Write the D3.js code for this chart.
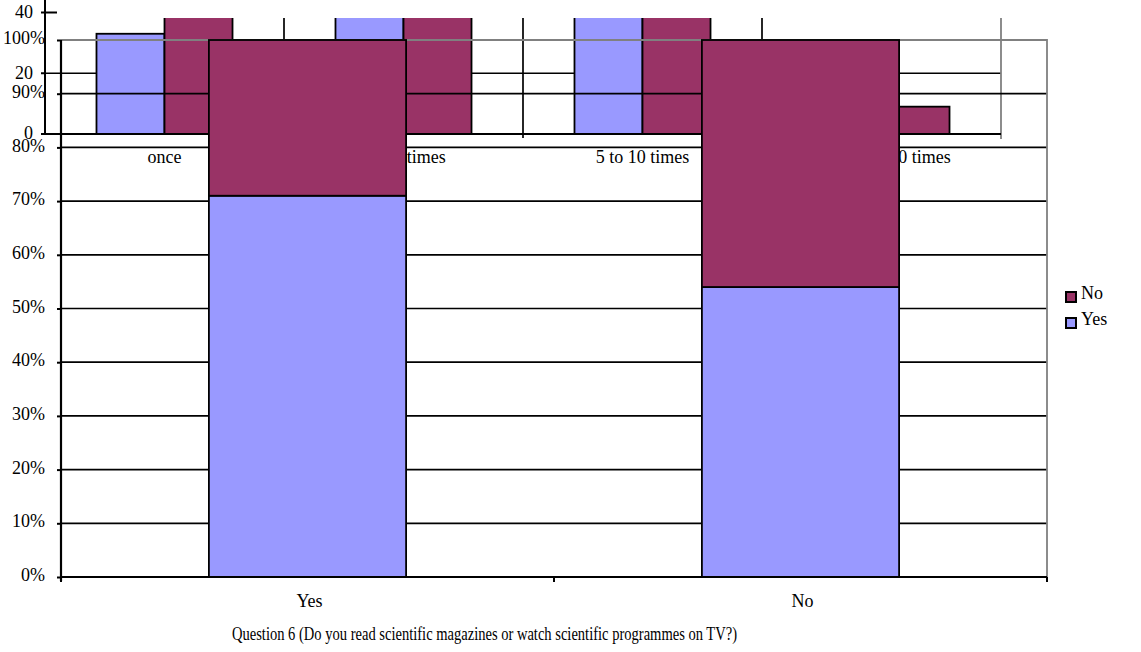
<!DOCTYPE html>
<html><head><meta charset="utf-8">
<script src="https://cdn.jsdelivr.net/npm/d3@7"></script>
<style>body{margin:0;background:#fff}svg{display:block}text{font-family:"Liberation Serif","Times New Roman",serif;fill:#000}</style>
</head><body>
<svg id="c" width="1141" height="652"></svg>
<script>
// Background (overlapped) chart data
const bgCategories = ["once", "2 to 4 times", "5 to 10 times", "more than 10 times"];
const bgSeries = ["Yes", "No"];
const bgYes = [33, 42, 48, 20];
const bgNo = [45, 50, 46, 9];
const bgTicks = [0, 20, 40];

// Foreground 100% stacked chart data
const categories = ["Yes", "No"];
const yesShare = [0.71, 0.54];
const noShare = [0.29, 0.46];
const yTicks = [0, 0.1, 0.2, 0.3, 0.4, 0.5, 0.6, 0.7, 0.8, 0.9, 1.0];
const legendItems = ["No", "Yes"];
const title = "Question 6 (Do you read scientific magazines or watch scientific programmes on TV?)";

const colors = {Yes: "#9999FF", No: "#993366"};
const svg = d3.select("#c");
const GW = 1.7;

// ---------- background chart ----------
const bx0 = d3.scaleBand().domain(bgCategories).range([45, 1001]).padding(0);
const bx1 = d3.scaleBand().domain(bgSeries).range([0, bx0.bandwidth()]).paddingInner(0).paddingOuter(0.757);
const by = d3.scaleLinear().domain([0, 40]).range([134, 12.5]);
const bg = svg.append("g");
svg.append("defs").append("clipPath").attr("id", "bgclip")
  .append("rect").attr("x", 0).attr("y", 18).attr("width", 1141).attr("height", 200);

bg.append("line").attr("x1", 45).attr("x2", 1001).attr("y1", by(20)).attr("y2", by(20))
  .attr("stroke", "#000").attr("stroke-width", GW);
bgCategories.slice(1).forEach(c => {
  bg.append("line").attr("x1", bx0(c)).attr("x2", bx0(c)).attr("y1", 18).attr("y2", by(0) + 4)
    .attr("stroke", "#000").attr("stroke-width", GW);
});
bg.append("line").attr("x1", 1001).attr("x2", 1001).attr("y1", 18).attr("y2", by(0) + 5)
  .attr("stroke", "#808080").attr("stroke-width", 1.8);

const bgData = bgCategories.map((c, i) => ({c, Yes: bgYes[i], No: bgNo[i]}));
const bgBars = bg.append("g").attr("clip-path", "url(#bgclip)");
bgData.forEach(d => {
  bgSeries.forEach(s => {
    bgBars.append("rect")
      .attr("x", bx0(d.c) + bx1(s)).attr("width", bx1.bandwidth())
      .attr("y", by(d[s])).attr("height", by(0) - by(d[s]))
      .attr("fill", colors[s]).attr("stroke", "#000").attr("stroke-width", 1.8);
  });
});
bg.append("line").attr("x1", 45).attr("x2", 1001).attr("y1", by(0)).attr("y2", by(0))
  .attr("stroke", "#000").attr("stroke-width", 2);
bg.append("line").attr("x1", 45).attr("x2", 45).attr("y1", 0).attr("y2", by(0))
  .attr("stroke", "#000").attr("stroke-width", 2);
bgTicks.forEach(t => {
  bg.append("line").attr("x1", 41).attr("x2", t === 40 ? 57 : 45).attr("y1", by(t)).attr("y2", by(t))
    .attr("stroke", "#000").attr("stroke-width", 2);
  bg.append("text").attr("x", 33).attr("y", by(t)).attr("dy", "0.3em")
    .attr("text-anchor", "end").attr("font-size", 18).text(t);
});
bgCategories.forEach(c => {
  bg.append("text").attr("x", bx0(c) + bx0.bandwidth() / 2).attr("y", 163)
    .attr("text-anchor", "middle").attr("font-size", 18).text(c);
});

// ---------- foreground chart ----------
const x = d3.scaleBand().domain(categories).range([61, 1047]).paddingInner(0.6).paddingOuter(0.3);
const y = d3.scaleLinear().domain([0, 1]).range([577, 40]);
const fg = svg.append("g");

yTicks.filter(t => t > 0 && t < 1).forEach(t => {
  fg.append("line").attr("x1", 61).attr("x2", 1047).attr("y1", y(t)).attr("y2", y(t))
    .attr("stroke", "#000").attr("stroke-width", GW);
});
fg.append("path").attr("d", `M61,${y(1)}H1047V${y(0)}`).attr("fill", "none")
  .attr("stroke", "#808080").attr("stroke-width", 1.8);

const stackData = categories.map((c, i) => ({c, Yes: yesShare[i], No: noShare[i]}));
const stack = d3.stack().keys(["Yes", "No"])(stackData);
stack.forEach(layer => {
  fg.append("g").selectAll("rect").data(layer).join("rect")
    .attr("x", d => x(d.data.c)).attr("width", x.bandwidth())
    .attr("y", d => y(d[1])).attr("height", d => y(d[0]) - y(d[1]))
    .attr("fill", colors[layer.key]).attr("stroke", "#000").attr("stroke-width", 1.8);
});

const yAxis = fg.append("g").attr("transform", "translate(61,0)")
  .call(d3.axisLeft(y).tickValues(yTicks).tickFormat(d3.format(".0%")).tickSize(4).tickPadding(12));
yAxis.select(".domain").attr("stroke", "#000").attr("stroke-width", 2.2).attr("d", `M0,${y(1)}V${y(0) + 4}`);
yAxis.selectAll(".tick line").attr("stroke", "#000").attr("stroke-width", 2);
yAxis.selectAll(".tick text").attr("font-size", 18).attr("font-family", "Liberation Serif").attr("dy", "0.2em");

fg.append("line").attr("x1", 61).attr("x2", 1047).attr("y1", y(0)).attr("y2", y(0))
  .attr("stroke", "#000").attr("stroke-width", 2.2);
[61, (x("Yes") + x.bandwidth() + x("No")) / 2, 1047].forEach(px => {
  fg.append("line").attr("x1", px).attr("x2", px).attr("y1", y(0)).attr("y2", y(0) + 5)
    .attr("stroke", "#000").attr("stroke-width", 2);
});
categories.forEach(c => {
  fg.append("text").attr("x", x(c) + x.bandwidth() / 2 + 2).attr("y", 607)
    .attr("text-anchor", "middle").attr("font-size", 18).text(c);
});
fg.append("text").attr("x", 232).attr("y", 640).attr("font-size", 18)
  .attr("textLength", 505).attr("lengthAdjust", "spacingAndGlyphs").text(title);

legendItems.forEach((k, i) => {
  const ly = 292 + i * 26;
  fg.append("rect").attr("x", 1066).attr("y", ly).attr("width", 10).attr("height", 10)
    .attr("fill", colors[k]).attr("stroke", "#000").attr("stroke-width", 2);
  fg.append("text").attr("x", 1081).attr("y", ly + 7).attr("font-size", 18).text(k);
});
</script>
</body></html>
